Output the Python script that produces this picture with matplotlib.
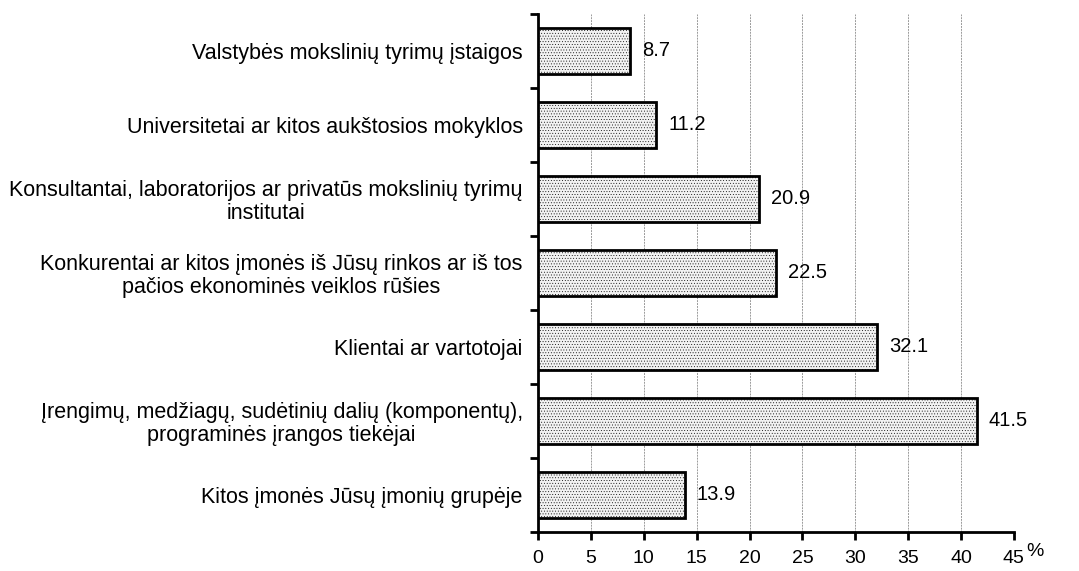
import matplotlib
matplotlib.use('Agg')
import matplotlib.pyplot as plt
import matplotlib.ticker as ticker

plt.rcParams['font.family'] = ['Liberation Sans', 'DejaVu Sans']
plt.rcParams['hatch.color'] = '#c4c4c4'
plt.rcParams['hatch.linewidth'] = 0.3

categories = [
    'Valstybės mokslinių tyrimų įstaigos',
    'Universitetai ar kitos aukštosios mokyklos',
    'Konsultantai, laboratorijos ar privatūs mokslinių tyrimų\ninstitutai',
    'Konkurentai ar kitos įmonės iš Jūsų rinkos ar iš tos\npačios ekonominės veiklos rūšies',
    'Klientai ar vartotojai',
    'Įrengimų, medžiagų, sudėtinių dalių (komponentų),\nprograminės įrangos tiekėjai',
    'Kitos įmonės Jūsų įmonių grupėje',
]
values = [8.7, 11.2, 20.9, 22.5, 32.1, 41.5, 13.9]
x_ticks = [0, 5, 10, 15, 20, 25, 30, 35, 40, 45]

fig = plt.figure(figsize=(10.79, 5.71), dpi=100)
ax = fig.add_axes([0.4986, 0.0683, 0.4411, 0.9072])

pos = list(range(len(categories)))
ax.barh(pos, values, height=0.62, color='#f2f2f2', edgecolor='black',
        linewidth=2, hatch='......', zorder=3)
for p, v in zip(pos, values):
    ax.text(v + 1.1, p, f'{v:.1f}', va='center', ha='left', fontsize=14.5, zorder=4)

ax.set_xlim(0, 45)
ax.set_ylim(len(categories) - 0.5, -0.5)
ax.xaxis.set_major_locator(ticker.FixedLocator(x_ticks))
ax.grid(axis='x', color='#9a9a9a', linestyle=(0, (2, 1)), linewidth=0.7, zorder=0)

ax.set_yticks(pos)
ax.set_yticklabels(categories, multialignment='center', fontsize=15.5,
                   linespacing=1.1)
ax.yaxis.set_minor_locator(ticker.FixedLocator([p - 0.5 for p in pos] + [len(pos) - 0.5]))
ax.tick_params(axis='y', which='major', length=0, pad=11)
ax.tick_params(axis='y', which='minor', length=6, width=2, direction='out')
ax.tick_params(axis='x', which='major', length=6, width=2, direction='out',
               labelsize=14, pad=7)

for s in ['top', 'right']:
    ax.spines[s].set_visible(False)
for s in ['left', 'bottom']:
    ax.spines[s].set_linewidth(2)

fig.text(1035 / 1079, 1 - 552 / 571, '%', fontsize=14, ha='center', va='center')

fig.savefig('out.png', dpi=100, facecolor='white')
